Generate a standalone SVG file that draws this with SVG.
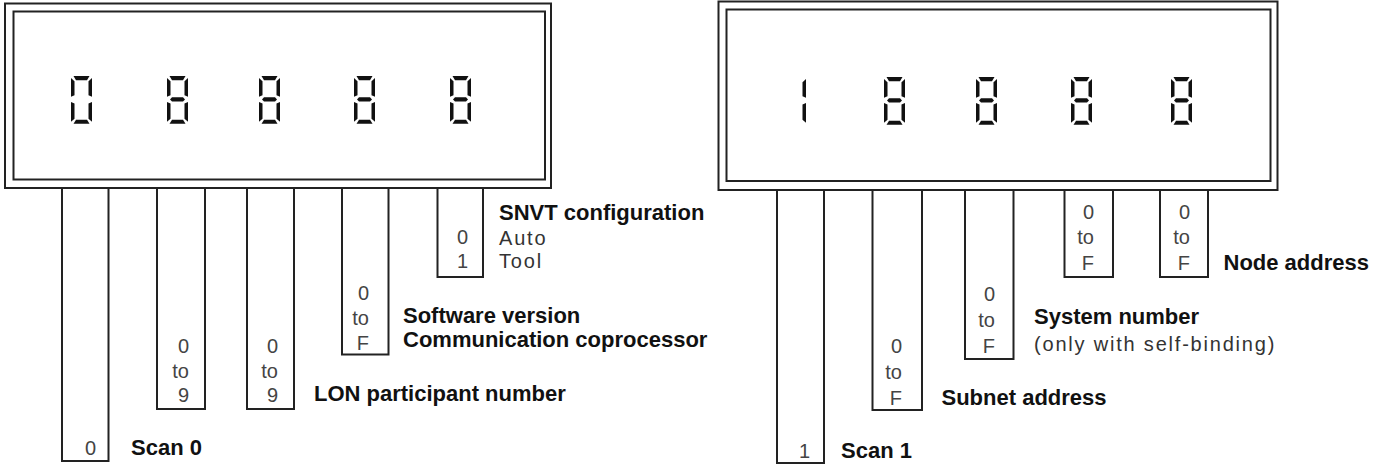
<svg xmlns="http://www.w3.org/2000/svg" xmlns:xlink="http://www.w3.org/1999/xlink" width="1385" height="465" viewBox="0 0 1385 465">
<style>
.frame{fill:none;stroke:#222;stroke-width:2}
.strip{fill:none;stroke:#222;stroke-width:2}
.seg{fill:#111}
.num{font-family:"Liberation Sans",Arial,sans-serif;font-size:20px;fill:#444;text-anchor:end}
.lbl{font-family:"Liberation Sans",Arial,sans-serif;font-size:22px;font-weight:bold;fill:#111}
.sub{font-family:"Liberation Sans",Arial,sans-serif;font-size:20px;letter-spacing:1.8px;fill:#333}
</style>
<defs>
<polygon id="sa" class="seg" points="2.5,0 18.5,0 16,4 5,4"/>
<polygon id="sb" class="seg" points="21,2 21,20 17.5,18.5 17.5,5"/>
<polygon id="sc" class="seg" points="21,25 21,44 17.5,41 17.5,26.5"/>
<polygon id="sd" class="seg" points="5,42 16,42 18.5,46 2.5,46"/>
<polygon id="se" class="seg" points="0,25 3.5,26.5 3.5,41 0,44"/>
<polygon id="sf" class="seg" points="0,2 3.5,5 3.5,18.5 0,20"/>
<polygon id="sg" class="seg" points="3,22.5 5,20.5 16,20.5 18,22.5 16,24.5 5,24.5"/>
<g id="d0"><use href="#sa"/><use href="#sb"/><use href="#sc"/><use href="#sd"/><use href="#se"/><use href="#sf"/></g>
<g id="d8"><use href="#d0"/><use href="#sg"/></g>
<g id="d1"><use href="#sb"/><use href="#sc"/></g>
</defs>
<rect width="1385" height="465" fill="#fff"/>

<g id="display-scan0">
<rect class="frame" x="5" y="3.5" width="546" height="184.5"/>
<rect class="frame" x="13.5" y="11.5" width="531.5" height="168"/>
<use href="#d0" transform="translate(71,76) scale(1,1.04)"/>
<use href="#d8" transform="translate(167,76) scale(1,1.04)"/>
<use href="#d8" transform="translate(259,76) scale(1,1.04)"/>
<use href="#d8" transform="translate(354,76) scale(1,1.04)"/>
<use href="#d8" transform="translate(450,76) scale(1,1.04)"/>
</g>

<g id="display-scan1">
<rect class="frame" x="718.5" y="1.5" width="559" height="188.5"/>
<rect class="frame" x="726.5" y="9.5" width="544" height="171.5"/>
<use href="#d1" transform="translate(785,77) scale(1,1.04)"/>
<use href="#d8" transform="translate(884,77) scale(1,1.04)"/>
<use href="#d8" transform="translate(976,77) scale(1,1.04)"/>
<use href="#d8" transform="translate(1071,77) scale(1,1.04)"/>
<use href="#d8" transform="translate(1171,77) scale(1,1.04)"/>
</g>

<g id="connectors"></g>

<g id="l-strip1">
<path class="strip" d="M62,188 V461 H108.5 V188"/>
<text class="num" x="96" y="455">0</text>
<text class="lbl" x="131" y="455">Scan 0</text>
</g>
<g id="l-strip2">
<path class="strip" d="M157,188 V409 H205 V188"/>
<text class="num" x="189" y="353">0</text>
<text class="num" x="189" y="378">to</text>
<text class="num" x="189" y="402">9</text>
</g>
<g id="l-strip3">
<path class="strip" d="M247,188 V409 H294 V188"/>
<text class="num" x="278" y="353">0</text>
<text class="num" x="278" y="378">to</text>
<text class="num" x="278" y="402">9</text>
<text class="lbl" x="314" y="401">LON participant number</text>
</g>
<g id="l-strip4">
<path class="strip" d="M342,188 V354.5 H388.5 V188"/>
<text class="num" x="369" y="300">0</text>
<text class="num" x="369" y="325">to</text>
<text class="num" x="369" y="350">F</text>
<text class="lbl" x="403" y="323">Software version</text>
<text class="lbl" x="403" y="347">Communication coprocessor</text>
</g>
<g id="l-strip5">
<path class="strip" d="M437.5,188 V277 H483 V188"/>
<text class="num" x="468" y="244">0</text>
<text class="num" x="468" y="268">1</text>
<text class="lbl" x="499" y="220">SNVT configuration</text>
<text class="sub" x="499" y="245">Auto</text>
<text class="sub" x="499" y="268">Tool</text>
</g>

<g id="r-strip1">
<path class="strip" d="M777,190 V463 H824 V190"/>
<text class="num" x="810" y="458">1</text>
<text class="lbl" x="841" y="458">Scan 1</text>
</g>
<g id="r-strip2">
<path class="strip" d="M872.5,190 V410 H922 V190"/>
<text class="num" x="902" y="353">0</text>
<text class="num" x="902" y="379">to</text>
<text class="num" x="902" y="405">F</text>
<text class="lbl" x="941.5" y="405">Subnet address</text>
</g>
<g id="r-strip3">
<path class="strip" d="M965,190 V359 H1013.5 V190"/>
<text class="num" x="995" y="301">0</text>
<text class="num" x="995" y="327">to</text>
<text class="num" x="995" y="353">F</text>
<text class="lbl" x="1034" y="324">System number</text>
<text class="sub" x="1034" y="351">(only with self-binding)</text>
</g>
<g id="r-strip4">
<path class="strip" d="M1064.5,190 V277 H1113 V190"/>
<text class="num" x="1094" y="219">0</text>
<text class="num" x="1094" y="244">to</text>
<text class="num" x="1094" y="270">F</text>
</g>
<g id="r-strip5">
<path class="strip" d="M1160,190 V277 H1208 V190"/>
<text class="num" x="1190" y="219">0</text>
<text class="num" x="1190" y="244">to</text>
<text class="num" x="1190" y="270">F</text>
<text class="lbl" x="1223.5" y="270">Node address</text>
</g>
</svg>
